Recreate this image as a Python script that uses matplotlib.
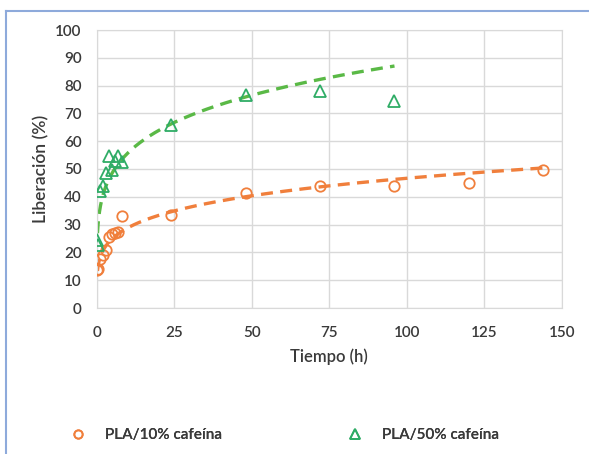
import numpy as np
import matplotlib
matplotlib.use("Agg")
import matplotlib.pyplot as plt
from matplotlib.lines import Line2D

# ---- data ----
t_10 = [0.25, 0.5, 1, 2, 3, 4, 5, 6, 7, 8, 24, 48, 72, 96, 120, 144]
rel_10 = [13.5, 14, 17.5, 19, 21, 25.5, 26.5, 27, 27.5, 33, 33.5, 41.5, 44, 44, 44.8, 49.5]
t_50 = [0.25, 0.5, 1, 2, 3, 4, 5, 6, 7, 8, 24, 48, 72, 96]
rel_50 = [24.5, 22.5, 42, 44, 48.5, 54.5, 49.5, 53, 54.5, 52.5, 66, 76.5, 78, 74.5]
labels = ["PLA/10% cafeína", "PLA/50% cafeína"]
x_ticks = [0, 25, 50, 75, 100, 125, 150]
y_ticks = [0, 10, 20, 30, 40, 50, 60, 70, 80, 90, 100]

orange = "#f07f3c"
green_pts = "#2fac66"
green_line = "#5ab946"
txt = "#3a3a3a"
grid_c = "#d9d9d9"

plt.rcParams['font.family'] = ['Lato', 'DejaVu Sans']

fig = plt.figure(figsize=(5.89, 4.54), dpi=100)
W, H = 589, 454
ax = fig.add_axes([96.7 / W, 1 - 308 / H, (562 - 96.7) / W, (308 - 30) / H])


def power_fit(t, y):
    t = np.asarray(t, float)
    y = np.asarray(y, float)
    b, lna = np.polyfit(np.log(t), np.log(y), 1)
    tt = np.geomspace(t.min(), t.max(), 300)
    return tt, np.exp(lna) * tt ** b


handles = []
for t, y, col, lcol, mk, lab in [
    (t_10, rel_10, orange, orange, "o", labels[0]),
    (t_50, rel_50, green_pts, green_line, "^", labels[1]),
]:
    h, = ax.plot(t, y, linestyle="none", marker=mk, markersize=7.5 if mk == "o" else 8.5,
                 markerfacecolor="none", markeredgecolor=col, markeredgewidth=1.3,
                 label=lab, zorder=3)
    handles.append(h)
    tt, yy = power_fit(t, y)
    ax.plot(tt, yy, color=lcol, lw=2.4, dashes=(3.6, 2.2), zorder=2)

ax.set_xlim(0, 150)
ax.set_ylim(0, 100)
ax.set_xticks(x_ticks)
ax.set_yticks(y_ticks)
ax.grid(True, color=grid_c, lw=1)
ax.set_axisbelow(True)
for s in ax.spines.values():
    s.set_color(grid_c)
ax.tick_params(length=0, labelsize=11, colors=txt)
ax.tick_params(axis="x", pad=13)
ax.tick_params(axis="y", pad=11)
for lab in ax.get_xticklabels() + ax.get_yticklabels():
    lab.set_fontweight("semibold")
ax.set_xlabel("Tiempo (h)", fontsize=12, color=txt, fontweight="semibold", labelpad=6)
ax.set_ylabel("Liberación (%)", fontsize=12.5, color=txt, fontweight="semibold", labelpad=4)

# legend entries placed individually
for h, lab, xc in [(handles[0], labels[0], 78), (handles[1], labels[1], 355)]:
    fs = 11
    hl = 1.0
    x0 = xc - hl * fs * 100 / 72 / 2
    leg = fig.legend([h], [lab], loc="center left", bbox_to_anchor=(x0 / W, 1 - 435 / H),
                     frameon=False, fontsize=fs, handletextpad=1.25, handlelength=hl,
                     borderpad=0, borderaxespad=0, markerscale=0.8)
    for tx in leg.get_texts():
        tx.set_color(txt)
        tx.set_fontweight("semibold")
    fig.add_artist(leg)

# outer chart frame
frame_c = "#8eaadb"
fig.add_artist(Line2D([5.5 / W, 5.5 / W], [0, 1 - 11 / H], transform=fig.transFigure, color=frame_c, lw=1.5))
fig.add_artist(Line2D([5.5 / W, 1], [1 - 11 / H, 1 - 11 / H], transform=fig.transFigure, color=frame_c, lw=1.5))

fig.savefig("out.png", dpi=100)
